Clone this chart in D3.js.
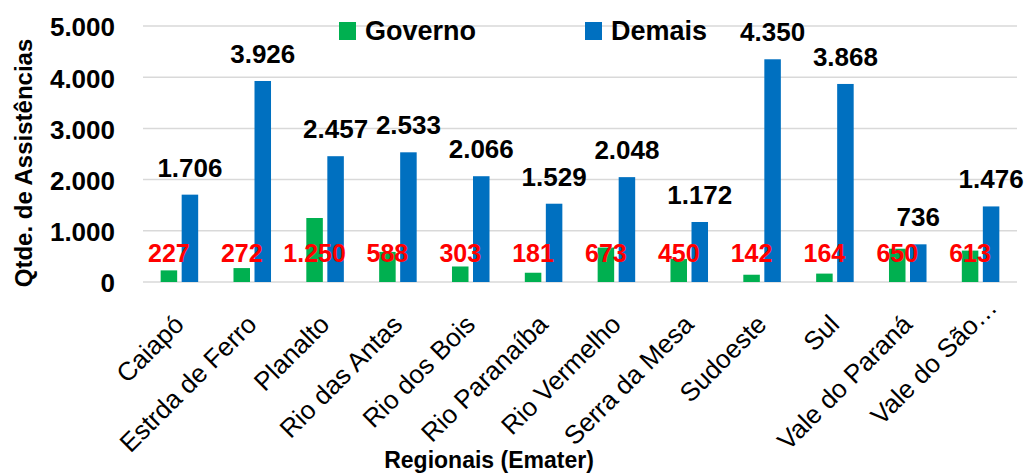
<!DOCTYPE html>
<html>
<head>
<meta charset="utf-8">
<script src="https://cdn.jsdelivr.net/npm/d3@7"></script>
<style>
    body { margin: 0; background: #ffffff; }
    text { font-family: "Liberation Sans", Arial, sans-serif; }
</style>
</head>
<body>
<div id="chart"></div>
<script>

var regionais = ["Caiapó", "Estrda de Ferro", "Planalto", "Rio das Antas", "Rio dos Bois", "Rio Paranaíba",
    "Rio Vermelho", "Serra da Mesa", "Sudoeste", "Sul", "Vale do Paraná", "Vale do São…"];
var governo = [227, 272, 1250, 588, 303, 181, 673, 450, 142, 164, 650, 613];
var demais = [1706, 3926, 2457, 2533, 2066, 1529, 2048, 1172, 4350, 3868, 736, 1476];
var seriesNames = ["Governo", "Demais"];
var seriesColors = ["#00B050", "#0070C0"];
var yTicks = [0, 1000, 2000, 3000, 4000, 5000];

var width = 1027, height = 473;
var margin = {top: 26, right: 10, bottom: 191, left: 143};

var ptBR = d3.formatLocale({decimal: ",", thousands: ".", grouping: [3], currency: ["R$", ""]});
var fmt = ptBR.format(",d");

var svg = d3.select("#chart").append("svg")
    .attr("width", width)
    .attr("height", height);

svg.append("rect")
    .attr("width", width)
    .attr("height", height)
    .style("fill", "#ffffff");

var x = d3.scaleBand()
    .domain(regionais)
    .range([margin.left, width - margin.right]);

var x1 = d3.scaleBand()
    .domain(seriesNames)
    .range([0, x.bandwidth()])
    .paddingInner(0.214)
    .paddingOuter(0.84);

var y = d3.scaleLinear()
    .domain([0, 5000])
    .range([height - margin.bottom, margin.top]);

//gridlines
svg.append("g")
    .selectAll("line")
    .data(yTicks)
    .enter().append("line")
    .attr("x1", margin.left)
    .attr("x2", width - margin.right)
    .attr("y1", function(d) { return y(d); })
    .attr("y2", function(d) { return y(d); })
    .style("stroke", "#d9d9d9")
    .style("stroke-width", "1.5px");

//y axis labels
var yAxis = svg.append("g")
    .attr("transform", "translate(" + (margin.left - 28) + ",0)")
    .call(d3.axisLeft(y).tickValues(yTicks).tickSize(0).tickFormat(fmt));
yAxis.select(".domain").remove();
yAxis.selectAll("text")
    .attr("x", 0)
    .attr("dy", "0.38em")
    .style("font-size", "26px")
    .style("font-weight", "bold")
    .style("fill", "#000");

//x axis labels (the truncated one sits a bit higher, like in excel)
var xAxis = svg.append("g")
    .attr("transform", "translate(0," + y(0) + ")")
    .call(d3.axisBottom(x).tickSize(0));
xAxis.select(".domain").remove();
xAxis.selectAll("text")
    .attr("x", 0)
    .attr("y", 0)
    .attr("dy", 0)
    .attr("transform", function(d) {
        if (d.slice(-1) === "…") return "translate(18,27) rotate(-45)";
        return "translate(6,44) rotate(-45)";
    })
    .style("text-anchor", "end")
    .style("font-size", "26px")
    .style("fill", "#000");

//bars
var rows = regionais.map(function(r, i) {
    return {regional: r, values: [governo[i], demais[i]]};
});

var groups = svg.append("g")
    .selectAll("g")
    .data(rows)
    .enter().append("g")
    .attr("transform", function(d) { return "translate(" + x(d.regional) + ",0)"; });

groups.selectAll("rect")
    .data(function(d) { return d.values.map(function(v, j) { return {name: seriesNames[j], value: v, idx: j}; }); })
    .enter().append("rect")
    .attr("x", function(d) { return x1(d.name); })
    .attr("width", x1.bandwidth())
    .attr("y", function(d) { return y(d.value); })
    .attr("height", function(d) { return y(0) - y(d.value); })
    .style("fill", function(d) { return seriesColors[d.idx]; });

//labels for Demais (above bar)
groups.append("text")
    .attr("x", function() { return x1("Demais") + x1.bandwidth() / 2; })
    .attr("y", function(d) { return y(d.values[1]) - 18; })
    .style("text-anchor", "middle")
    .style("font-size", "26px")
    .style("font-weight", "bold")
    .style("fill", "#000")
    .text(function(d) { return fmt(d.values[1]); });

//labels for Governo (near base, red)
groups.append("text")
    .attr("x", function() { return x1("Governo") + x1.bandwidth() / 2; })
    .attr("y", y(0) - 20)
    .style("text-anchor", "middle")
    .style("font-size", "25px")
    .style("font-weight", "bold")
    .style("fill", "#ff0000")
    .text(function(d) { return fmt(d.values[0]); });

//legend
var legendX = [339, 585];
var legend = svg.append("g")
    .selectAll("g")
    .data(seriesNames)
    .enter().append("g")
    .attr("transform", function(d, i) { return "translate(" + legendX[i] + ",22)"; });

legend.append("rect")
    .attr("width", 17)
    .attr("height", 18)
    .style("fill", function(d, i) { return seriesColors[i]; });

legend.append("text")
    .attr("x", 26)
    .attr("y", 18)
    .style("font-size", "27px")
    .style("font-weight", "bold")
    .style("fill", "#000")
    .text(function(d) { return d; });

//axis titles
svg.append("text")
    .attr("transform", "translate(32,163) rotate(-90)")
    .style("text-anchor", "middle")
    .style("font-size", "24px")
    .style("font-weight", "bold")
    .text("Qtde. de Assistências");

svg.append("text")
    .attr("x", 489)
    .attr("y", 468)
    .style("text-anchor", "middle")
    .style("font-size", "23px")
    .style("font-weight", "bold")
    .text("Regionais (Emater)");

</script>
</body>
</html>
